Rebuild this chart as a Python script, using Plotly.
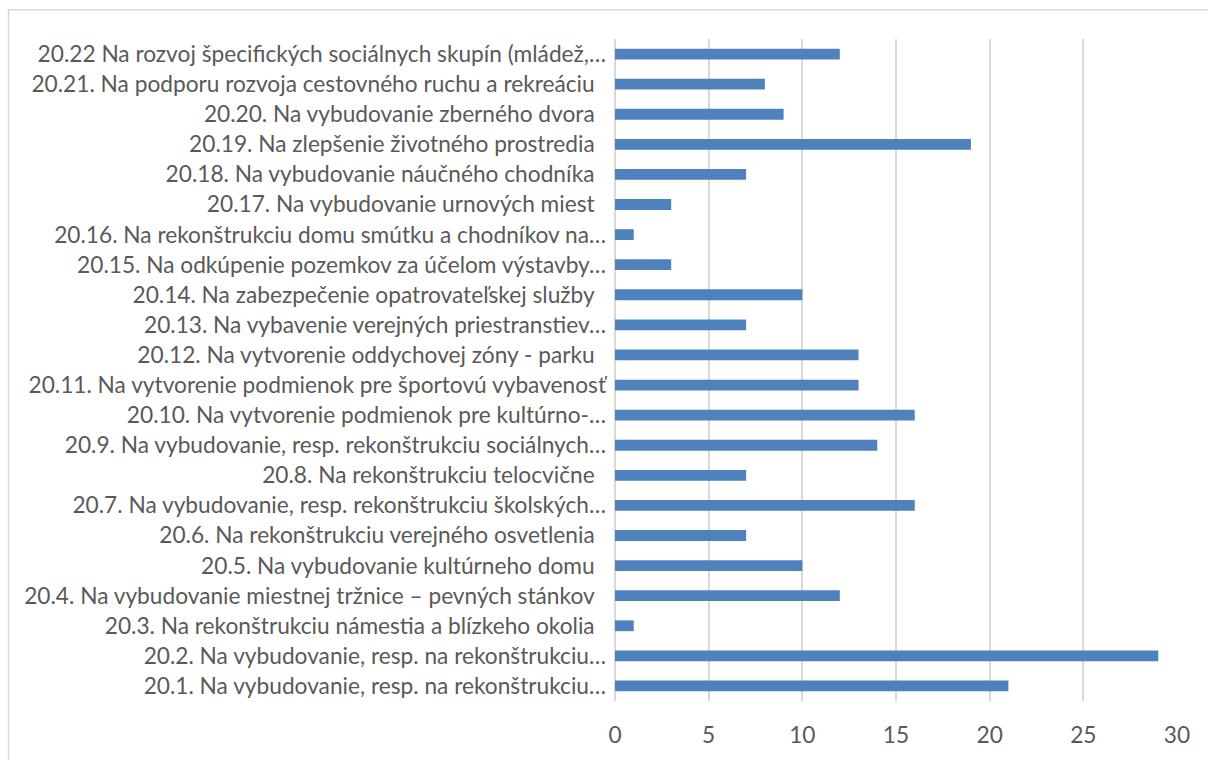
import plotly.graph_objects as go

SP = "\u2002"
categories = [
    "20.1. Na vybudovanie, resp. na rekonštrukciu…",
    "20.2. Na vybudovanie, resp. na rekonštrukciu…",
    "20.3. Na rekonštrukciu námestia a blízkeho okolia" + SP,
    "20.4. Na vybudovanie miestnej tržnice – pevných stánkov" + SP,
    "20.5. Na vybudovanie kultúrneho domu" + SP,
    "20.6. Na rekonštrukciu verejného osvetlenia" + SP,
    "20.7. Na vybudovanie, resp. rekonštrukciu školských…",
    "20.8. Na rekonštrukciu telocvične" + SP,
    "20.9. Na vybudovanie, resp. rekonštrukciu sociálnych…",
    "20.10. Na vytvorenie podmienok pre kultúrno-…",
    "20.11. Na vytvorenie podmienok pre športovú vybavenosť",
    "20.12. Na vytvorenie oddychovej zóny - parku" + SP,
    "20.13. Na vybavenie verejných priestranstiev…",
    "20.14. Na zabezpečenie opatrovateľskej služby" + SP,
    "20.15. Na odkúpenie pozemkov za účelom výstavby…",
    "20.16. Na rekonštrukciu domu smútku a chodníkov na…",
    "20.17. Na vybudovanie urnových miest" + SP,
    "20.18. Na vybudovanie náučného chodníka" + SP,
    "20.19. Na zlepšenie životného prostredia" + SP,
    "20.20. Na vybudovanie zberného dvora" + SP,
    "20.21. Na podporu rozvoja cestovného ruchu a rekreáciu" + SP,
    "20.22 Na rozvoj špecifických sociálnych skupín (mládež,…",
]
values = [21, 29, 1, 12, 10, 7, 16, 7, 14, 16, 13, 13, 7, 10, 3, 1, 3, 7, 19, 9, 8, 12]
x_ticks = [0, 5, 10, 15, 20, 25, 30]

W, H = 1208, 760
L, R, T, B = 615, 1177, 39, 707

fig = go.Figure()
fig.add_trace(go.Bar(
    x=values, y=categories, orientation="h",
    marker=dict(color="#4F81BD", line=dict(width=0)),
))

def px_x(p):
    return (p - L) / (R - L)

def px_y(p):
    return (B - p) / (B - T)

fig.add_shape(type="rect", xref="paper", yref="paper",
              x0=px_x(8.5), x1=px_x(1230), y0=px_y(9.5), y1=px_y(800),
              line=dict(color="#D9D9D9", width=1.5), fillcolor="rgba(0,0,0,0)",
              layer="below")

font = dict(family="Lato, Carlito, Calibri, sans-serif", size=22.7, color="#595959")

fig.update_layout(
    width=W, height=H,
    margin=dict(l=L, r=W - R, t=T, b=H - B, pad=0),
    paper_bgcolor="white", plot_bgcolor="white",
    bargap=0.64,
    showlegend=False,
    font=font,
    xaxis=dict(range=[0, 30], tickvals=x_ticks, ticktext=[str(v) for v in x_ticks],
               showgrid=True, gridcolor="#D9D9D9", gridwidth=1.5,
               zeroline=True, zerolinecolor="#D9D9D9", zerolinewidth=1.5,
               showline=False, ticks="", tickfont=font, ticklabelstandoff=18,
               fixedrange=True),
    yaxis=dict(showgrid=False, zeroline=False, showline=False, ticks="",
               tickfont=font, ticklabelstandoff=8, automargin=False,
               fixedrange=True),
)

fig.write_html("out.html", config={"displayModeBar": False},
               post_script="document.body.style.margin='0';document.body.style.overflow='hidden';")
